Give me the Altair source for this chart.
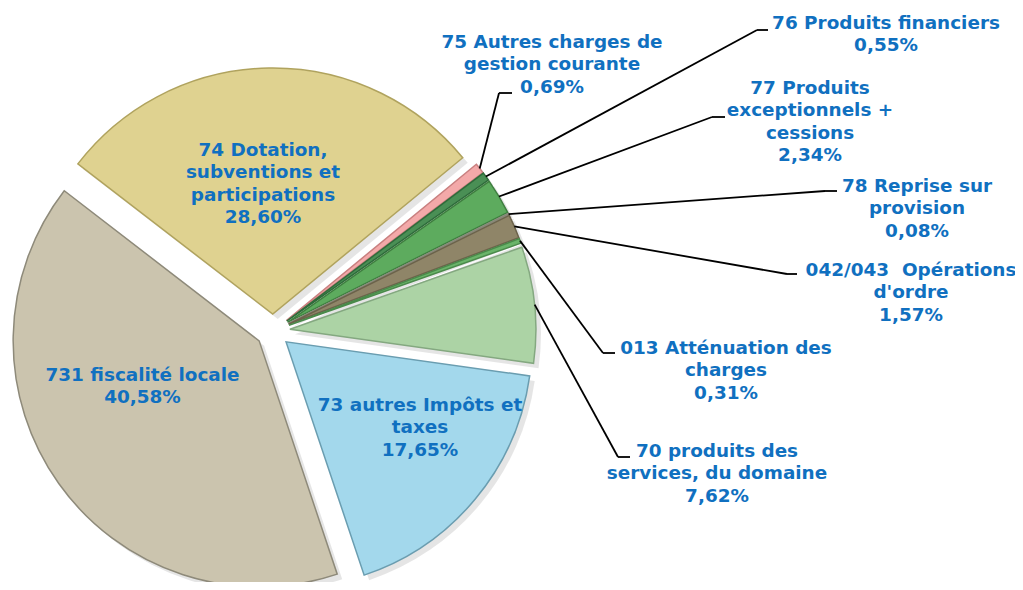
import altair as alt
import pandas as pd

# ---------------- data ----------------
categories = [
    "74 Dotation, subventions et participations",
    "75 Autres charges de gestion courante",
    "76 Produits financiers",
    "77 Produits exceptionnels + cessions",
    "78 Reprise sur provision",
    "042/043 Opérations d'ordre",
    "013 Atténuation des charges",
    "70 produits des services, du domaine",
    "73 autres Impôts et taxes",
    "731 fiscalité locale",
]
values = [28.60, 0.69, 0.55, 2.34, 0.08, 1.57, 0.31, 7.62, 17.65, 40.58]
label_lines = [
    ["74 Dotation,", "subventions et", "participations"],
    ["75 Autres charges de", "gestion courante"],
    ["76 Produits financiers"],
    ["77 Produits", "exceptionnels +", "cessions"],
    ["78 Reprise sur", "provision"],
    ["042/043\u00a0 Opérations", "d'ordre"],
    ["013 Atténuation des", "charges"],
    ["70 produits des", "services, du domaine"],
    ["73 autres Impôts et", "taxes"],
    ["731 fiscalité locale"],
]

# ---------------- style ----------------
fill_colors = ["#dfd290", "#f3a9a9", "#4a8f55", "#5dab5e", "#b4b4a4",
               "#8f8568", "#6ab46a", "#acd3a5", "#a3d8ec", "#cbc4ae"]
stroke_colors = ["#b0a35e", "#c98080", "#2e6b3a", "#3f7f40", "#888878",
                 "#6b624a", "#4a8a4a", "#84a880", "#6a9db0", "#8e8a7a"]
TEXT_COLOR = "#1070c0"
LINE_HEIGHT = 22.5

# ---------------- layout (page pixels) ----------------
MARGIN = 8
CX, CY = 273, 331
RADIUS = 246
EXPLODE = 17
START_DEG = -52.4
# label block centres
label_xy = [(263, 183.5), (552, 64), (886, 34), (810, 121.5), (917, 208),
            (911, 292), (726, 370), (717, 473), (420, 427), (142.5, 386)]
# leader line elbow and end (None = label inside the slice)
leader = [None, (499, 93, 512, 93), (757, 30, 768, 30), (712, 117, 725, 117),
          (825, 191, 837, 191), (787, 274, 797, 274), (603, 353, 615, 353),
          (618, 457, 630, 457), None, None]

rows = []
for i, (c, v, ll, (lx, ly), ld) in enumerate(zip(categories, values, label_lines, label_xy, leader)):
    pct = f"{v:.2f}".replace(".", ",") + "%"
    row = dict(category=c, value=v, order=i, text="\n".join(ll + [pct]),
               lx=lx - MARGIN, ly=ly - MARGIN)
    if ld:
        row.update(ex=ld[0] - MARGIN, ey=ld[1] - MARGIN, tx=ld[2] - MARGIN, ty=ld[3] - MARGIN)
    rows.append(row)
df = pd.DataFrame(rows)

cx, cy = CX - MARGIN, CY - MARGIN
start = f"({START_DEG} * PI / 180)"

base = (
    alt.Chart(df)
    .transform_window(cum="sum(value)", sort=[alt.SortField("order")], frame=[None, 0])
    .transform_joinaggregate(total="sum(value)")
    .transform_calculate(a1=f"{start} + 2 * PI * datum.cum / datum.total")
    .transform_calculate(a0="datum.a1 - 2 * PI * datum.value / datum.total")
    .transform_calculate(mid="(datum.a0 + datum.a1) / 2")
    .transform_calculate(
        cx=f"{cx} + {EXPLODE} * sin(datum.mid)",
        cy=f"{cy} - {EXPLODE} * cos(datum.mid)",
    )
    .transform_calculate(
        sx=f"datum.cx + {RADIUS} * sin(datum.mid)",
        sy=f"datum.cy - {RADIUS} * cos(datum.mid)",
        shx="datum.cx + 5",
        shy="datum.cy + 5",
    )
)

fill_scale = alt.Scale(domain=categories, range=fill_colors)
stroke_scale = alt.Scale(domain=categories, range=stroke_colors)

shadow = base.mark_arc(radius=RADIUS, fill="#000000", opacity=0.10).encode(
    x=alt.X("shx:Q", scale=None, axis=None, stack=False),
    y=alt.Y("shy:Q", scale=None, axis=None, stack=False),
    theta=alt.Theta("a0:Q", scale=None, stack=False),
    theta2="a1:Q",
)

arcs = base.mark_arc(radius=RADIUS, strokeWidth=1.5).encode(
    x=alt.X("cx:Q", scale=None, axis=None, stack=False),
    y=alt.Y("cy:Q", scale=None, axis=None, stack=False),
    theta=alt.Theta("a0:Q", scale=None, stack=False),
    theta2="a1:Q",
    fill=alt.Fill("category:N", scale=fill_scale, legend=None),
    stroke=alt.Stroke("category:N", scale=stroke_scale, legend=None),
)

lead_base = base.transform_filter("isValid(datum.ex)")
lead1 = lead_base.mark_rule(color="black", strokeWidth=1.8).encode(
    x=alt.X("sx:Q", scale=None, axis=None, stack=False),
    y=alt.Y("sy:Q", scale=None, axis=None, stack=False),
    x2="ex:Q", y2="ey:Q",
)
lead2 = lead_base.mark_rule(color="black", strokeWidth=1.8).encode(
    x=alt.X("ex:Q", scale=None, axis=None, stack=False),
    y=alt.Y("ey:Q", scale=None, axis=None, stack=False),
    x2="tx:Q", y2="ty:Q",
)

labels = (
    base.transform_calculate(lines="split(datum.text, '\\n')")
    .transform_calculate(ly0=f"datum.ly - (length(datum.lines) - 1) * {LINE_HEIGHT} / 2")
    .mark_text(
        align="center", baseline="middle", lineHeight=LINE_HEIGHT,
        font="DejaVu Sans", fontWeight="bold", fontSize=18.4, color=TEXT_COLOR,
    )
    .encode(
        x=alt.X("lx:Q", scale=None, axis=None, stack=False),
        y=alt.Y("ly0:Q", scale=None, axis=None, stack=False),
        text=alt.Text("lines:N"),
    )
)

chart = (
    alt.layer(shadow, arcs, lead1, lead2, labels)
    .properties(width=1007, height=574, padding=0, autosize=alt.AutoSizeParams(type="none"),
                background="white")
    .configure_view(stroke=None)
)

chart.save("out.html", embed_options={"renderer": "svg", "actions": False})
